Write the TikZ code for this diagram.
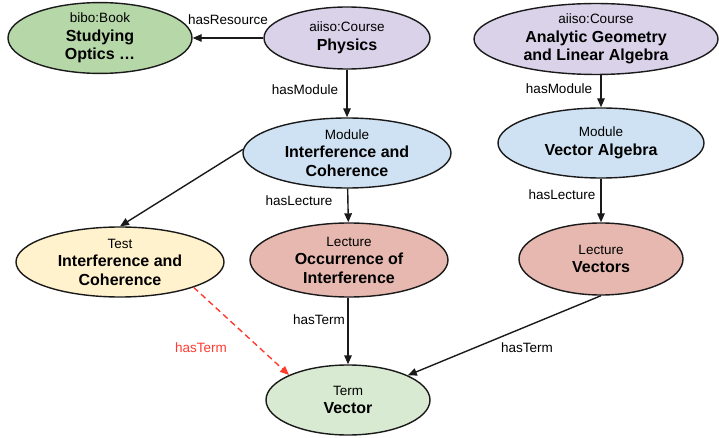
\documentclass[tikz,border=0pt]{standalone}
\usepackage{fontspec}
\setmainfont{Liberation Sans}
\usetikzlibrary{arrows.meta,shapes.geometric}
\definecolor{bookgreen}{HTML}{B6D7A8}
\definecolor{coursepurple}{HTML}{D9D2E9}
\definecolor{moduleblue}{HTML}{CFE2F3}
\definecolor{testyellow}{HTML}{FFF2CC}
\definecolor{lecturered}{HTML}{E6B8AF}
\definecolor{termgreen}{HTML}{D9EAD3}
\definecolor{edgered}{HTML}{FF3B30}
\definecolor{outline}{HTML}{1A1A1A}
\newcommand{\typ}[1]{{\fontsize{13.5}{17}\selectfont\mdseries #1}}
\tikzset{
  ent/.style={ellipse, draw=outline, line width=1.4pt, inner sep=0pt, align=center,
    font=\fontsize{16}{18.5}\selectfont\bfseries},
  rel/.style={draw=outline, line width=1.4pt, -{Triangle[length=9pt,width=7.5pt]}},
  redrel/.style={draw=edgered, line width=1.4pt, dashed, dash pattern=on 6pt off 4pt,
    -{Triangle[length=9pt,width=7.5pt]}},
  lbl/.style={font=\fontsize{13.5}{16}\selectfont, inner sep=0pt},
}
\begin{document}
\begin{tikzpicture}[x=1pt,y=-1pt]
\useasboundingbox (0,0) rectangle (719,438);
% nodes
\node[ent, fill=bookgreen, minimum width=184pt, minimum height=70pt] (book) at (100,38)
  {\typ{bibo:Book}\\Studying\\Optics \dots};
\node[ent, fill=coursepurple, minimum width=166pt, minimum height=62pt] (phys) at (347,38)
  {\typ{aiiso:Course}\\Physics};
\node[ent, fill=coursepurple, minimum width=244pt, minimum height=68pt] (agla) at (596,39)
  {\typ{aiiso:Course}\\Analytic Geometry\\and Linear Algebra};
\node[ent, fill=moduleblue, minimum width=208pt, minimum height=70pt] (mod) at (347,153)
  {\typ{Module}\\Interference and\\Coherence};
\node[ent, fill=moduleblue, minimum width=206pt, minimum height=70pt] (va) at (601,143)
  {\typ{Module}\\Vector Algebra};
\node[ent, fill=testyellow, minimum width=208pt, minimum height=70pt] (test) at (120,262)
  {\typ{Test}\\Interference and\\Coherence};
\node[ent, fill=lecturered, minimum width=198pt, minimum height=74pt] (occ) at (349,260)
  {\typ{Lecture}\\Occurrence of\\Interference};
\node[ent, fill=lecturered, minimum width=164pt, minimum height=72pt] (vec) at (601,259)
  {\typ{Lecture}\\Vectors};
\node[ent, fill=termgreen, minimum width=164pt, minimum height=70pt] (term) at (348,400)
  {\typ{Term}\\Vector};
% connectors
\draw[rel] (phys) -- (book);
\draw[rel] (phys) -- (mod);
\draw[rel] (agla.south -| va.north) -- (va);
\draw[rel] (mod.178) -- (test.north);
\draw[rel] (mod) -- (occ);
\draw[rel] (va) -- (vec);
\draw[rel] (occ.south -| term.north) -- (term);
\draw[rel] (vec.south) -- (term);
\draw[redrel] (test.-19) -- (term.157);
% labels
\node[lbl] (l1) at (228,20) {hasResource};
\node[lbl] (l2) at (305,90) {hasModule};
\node[lbl] (l3) at (559,89) {hasModule};
\node[lbl] (l4) at (299,201) {hasLecture};
\node[lbl] (l5) at (562,195) {hasLecture};
\node[lbl] (l6) at (319,320) {hasTerm};
\node[lbl, text=edgered] (l7) at (201,348) {hasTerm};
\node[lbl] (l8) at (527,348) {hasTerm};
\end{tikzpicture}
\end{document}
